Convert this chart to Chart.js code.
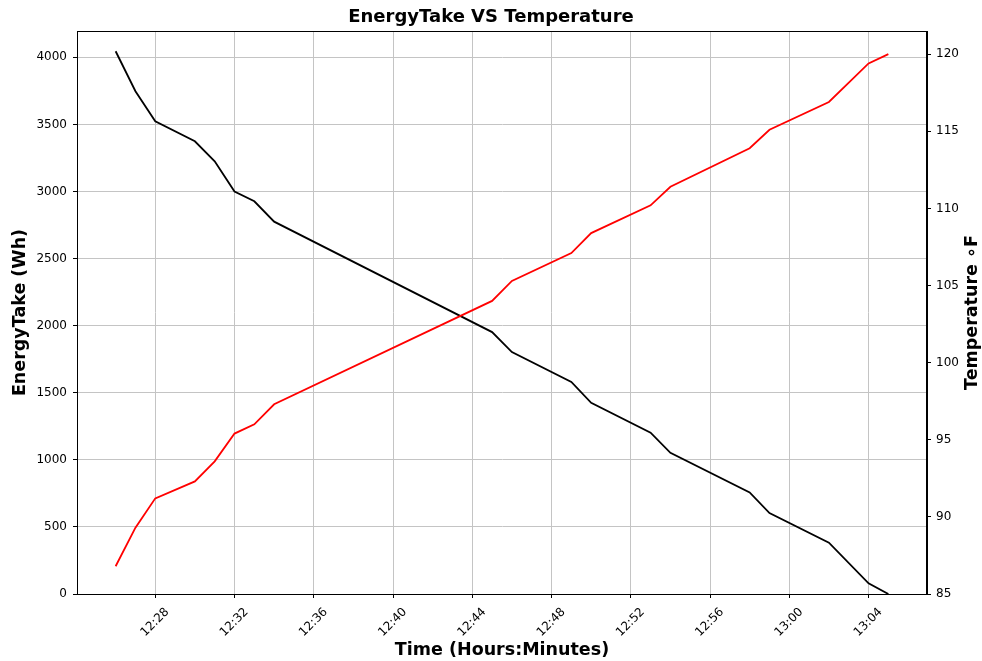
<!DOCTYPE html>
<html>
<head>
<meta charset="utf-8">
<script src="https://cdn.jsdelivr.net/npm/chart.js@4"></script>
<style>
  html, body { margin: 0; padding: 0; background: #fff; }
  #wrap { width: 982px; height: 661px; }
</style>
</head>
<body>
<div id="wrap"><canvas id="MyChart" width="982" height="661"></canvas></div>
<script>
// readings (time of day, energy taken, temperature)
const times = ["12:26", "12:27", "12:28", "12:30", "12:31", "12:32", "12:33", "12:34", "12:45", "12:46",
  "12:49", "12:50", "12:53", "12:54", "12:58", "12:59", "13:02", "13:04", "13:05"];
const energy_wh = [4045, 3747, 3523, 3374, 3225, 3000, 2927, 2775, 1952, 1803,
  1581, 1425, 1202, 1052, 757, 603, 382, 80, 0];
const temp_f = [86.8, 89.3, 91.2, 92.3, 93.6, 95.4, 96.0, 97.3, 104.0, 105.3,
  107.1, 108.4, 110.2, 111.4, 113.9, 115.1, 116.9, 119.4, 120.0];
const x_ticks = ["12:28", "12:32", "12:36", "12:40", "12:44", "12:48", "12:52", "12:56", "13:00", "13:04"];
const energy_ticks = [0, 500, 1000, 1500, 2000, 2500, 3000, 3500, 4000];
const temp_ticks = [85, 90, 95, 100, 105, 110, 115, 120];

// minutes after 12:00
function toMin(t) {
  let p = t.split(":");
  return (parseInt(p[0]) - 12) * 60 + parseInt(p[1]);
}
function toLabel(v) {
  let h = 12 + Math.floor(v / 60);
  let m = Math.round(v % 60);
  return h + ":" + String(m).padStart(2, "0");
}

const FONT = "'DejaVu Sans', sans-serif";
const GRID = "#c4c4c4";
const energy_pts = times.map((t, i) => ({ x: toMin(t), y: energy_wh[i] }));
const temp_pts = times.map((t, i) => ({ x: toMin(t), y: temp_f[i] }));

// box around plot area like matplotlib spines + right axis title read bottom-to-top
const frame = {
  id: "frame",
  afterDraw(chart) {
    const a = chart.chartArea;
    const c = chart.ctx;
    c.save();
    c.strokeStyle = "#000";
    c.lineWidth = 1;
    c.strokeRect(a.left + 0.5, a.top + 0.5, a.right - a.left - 1, a.bottom - a.top);
    c.translate(972, (a.top + a.bottom) / 2);
    c.rotate(-Math.PI / 2);
    c.fillStyle = "#000";
    c.font = "bold 17.5px " + FONT;
    c.textAlign = "center";
    c.textBaseline = "middle";
    c.fillText("Temperature ∘F", 0, 0);
    c.restore();
  }
};

Chart.defaults.font.family = FONT;
Chart.defaults.color = "#000";

new Chart(document.getElementById("MyChart"), {
  type: "line",
  data: {
    datasets: [
      {
        label: "Temperature",
        data: temp_pts,
        yAxisID: "y2",
        borderColor: "#ff0000",
        borderWidth: 1.8,
        pointRadius: 0,
        tension: 0,
        order: 0
      },
      {
        label: "EnergyTake",
        data: energy_pts,
        yAxisID: "y",
        borderColor: "#000000",
        borderWidth: 1.8,
        pointRadius: 0,
        tension: 0,
        order: 1
      }
    ]
  },
  options: {
    responsive: false,
    animation: false,
    layout: { padding: 0 },
    plugins: {
      legend: { display: false },
      tooltip: { enabled: false },
      title: {
        display: true,
        text: "EnergyTake VS Temperature",
        color: "#000",
        font: { family: FONT, size: 18, weight: "bold", lineHeight: 1 },
        padding: { top: 8, bottom: 5 }
      }
    },
    scales: {
      x: {
        type: "linear",
        min: 24.05,
        max: 66.95,
        afterBuildTicks: (s) => { s.ticks = x_ticks.map(t => ({ value: toMin(t) })); },
        afterFit: (s) => { s.height = 67; },
        grid: { color: GRID, lineWidth: 1, tickColor: "#000", tickLength: 4 },
        border: { color: "#000" },
        ticks: {
          callback: (v) => toLabel(v),
          minRotation: 45,
          maxRotation: 45,
          autoSkip: false,
          labelOffset: 12,
          padding: 7,
          font: { size: 12 },
          color: "#000"
        },
        title: {
          display: true,
          text: "Time (Hours:Minutes)",
          color: "#000",
          font: { size: 17.5, weight: "bold" },
          padding: { top: 0, bottom: 0 }
        }
      },
      y: {
        position: "left",
        min: 0,
        max: 4196,
        afterBuildTicks: (s) => { s.ticks = energy_ticks.map(v => ({ value: v })); },
        afterFit: (s) => { s.width = 77; },
        grid: { color: GRID, lineWidth: 1, tickColor: "#000", tickLength: 4 },
        border: { color: "#000" },
        ticks: { callback: (v) => String(v), padding: 6, font: { size: 12 }, color: "#000" },
        title: {
          display: true,
          text: "EnergyTake (Wh)",
          color: "#000",
          font: { size: 17.5, weight: "bold" },
          padding: { top: 10, bottom: 0 }
        }
      },
      y2: {
        position: "right",
        min: 85,
        max: 121.5,
        afterBuildTicks: (s) => { s.ticks = temp_ticks.map(v => ({ value: v })); },
        afterFit: (s) => { s.width = 55; },
        grid: { drawOnChartArea: false, tickColor: "#000", tickLength: 4 },
        border: { color: "#000" },
        ticks: { callback: (v) => String(v), padding: 5, font: { size: 12 }, color: "#000" },
        title: { display: false }
      }
    }
  },
  plugins: [frame]
});
</script>
</body>
</html>
